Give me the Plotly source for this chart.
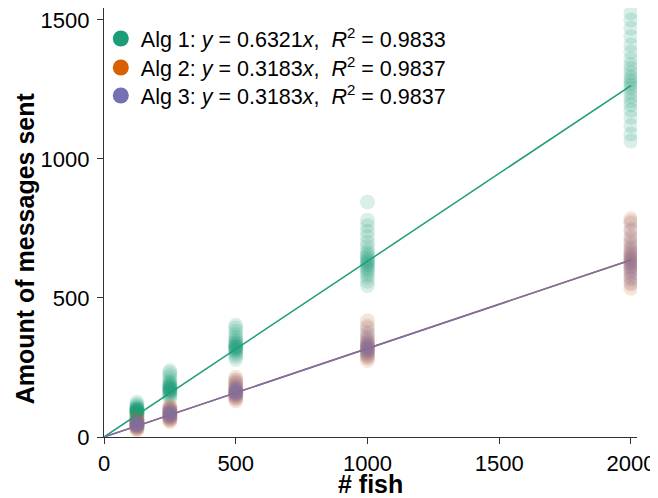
import plotly.graph_objects as go

# ---------------- data ----------------
fish_counts = [125, 250, 500, 1000, 2000]

alg1_values = {
    125: [62, 70, 75, 80, 82, 85, 87, 88, 90, 91, 92, 94, 95, 97, 99, 100, 102, 105, 108, 112, 118, 125],
    250: [140, 148, 152, 158, 162, 165, 168, 170, 172, 175, 177, 180, 183, 186, 190, 195, 200, 210, 220, 230, 238],
    500: [280, 290, 298, 305, 310, 314, 318, 321, 324, 327, 330, 334, 338, 343, 350, 358, 368, 380, 392, 402],
    1000: [545, 560, 575, 585, 595, 603, 610, 617, 622, 628, 633, 638, 645, 652, 660, 670, 685, 700, 720, 740, 760, 780, 845],
    2000: [1065, 1090, 1120, 1150, 1175, 1195, 1210, 1225, 1240, 1255, 1265, 1275, 1285, 1295, 1310, 1325, 1340, 1360, 1385, 1410, 1440, 1470, 1500, 1525],
}
alg2_values = {
    125: [25, 30, 35, 38, 41, 43, 45, 47, 49, 52, 55, 58, 62, 66],
    250: [55, 62, 68, 72, 76, 79, 82, 85, 88, 92, 96, 100, 106, 112],
    500: [130, 140, 148, 153, 157, 160, 163, 167, 171, 176, 183, 192, 202, 215],
    1000: [275, 288, 296, 304, 311, 316, 320, 325, 330, 336, 344, 355, 370, 392, 418],
    2000: [535, 555, 572, 588, 602, 613, 622, 630, 638, 646, 655, 665, 678, 695, 715, 740, 768, 785],
}
alg3_values = {
    125: [30, 34, 38, 41, 43, 45, 47, 49, 51, 54, 57, 61],
    250: [62, 67, 72, 76, 79, 82, 85, 88, 91, 95, 100, 105],
    500: [138, 145, 151, 155, 158, 161, 164, 168, 172, 178, 186, 196, 206],
    1000: [285, 295, 302, 308, 313, 318, 322, 327, 333, 340, 350, 362, 378, 400],
    2000: [550, 568, 582, 595, 606, 615, 623, 631, 639, 648, 658, 670, 685, 702, 722, 748, 775],
}

alg_names = ["Alg 1", "Alg 2", "Alg 3"]
slopes = [0.6321, 0.3183, 0.3183]
r_squared = [0.9833, 0.9837, 0.9837]
colors = ["#1b9e77", "#d95f02", "#7570b3"]
x_ticks = [0, 500, 1000, 1500, 2000]
y_ticks = [0, 500, 1000, 1500]
x_title = "# fish"
y_title = "Amount of messages sent"

all_values = [alg1_values, alg2_values, alg3_values]
FONT = "Liberation Sans, Arial, sans-serif"

fig = go.Figure()

# scatter clouds
for vals, col in zip(all_values, colors):
    xs, ys = [], []
    for fc in fish_counts:
        for v in vals[fc]:
            xs.append(fc)
            ys.append(v)
    fig.add_trace(go.Scatter(
        x=xs, y=ys, mode="markers",
        marker=dict(size=15, color=col, opacity=0.16, line=dict(width=0)),
        showlegend=False, hoverinfo="skip",
    ))

# fit lines
x_line = [0, max(fish_counts)]
for s, col in zip(slopes, colors):
    fig.add_trace(go.Scatter(
        x=x_line, y=[s * xv for xv in x_line], mode="lines",
        line=dict(color=col, width=1.5), showlegend=False, hoverinfo="skip",
    ))

# legend entries (one small legend per row for exact row spacing)
legend_ids = ["legend", "legend2", "legend3"]
legend_tops = [0.9767, 0.909, 0.8438]
for name, s, r2, col, lid in zip(alg_names, slopes, r_squared, colors, legend_ids):
    label = (f"{name}: <i>y</i> = {s:.4f}<i>x</i>,&nbsp; "
             f"<i>R</i><sup>2</sup> = {r2:.4f}")
    fig.add_trace(go.Scatter(
        x=[None], y=[None], mode="markers",
        marker=dict(size=17, color=col, opacity=1),
        name=label, showlegend=True, legend=lid,
    ))

axis_common = dict(
    showline=True, linecolor="#333333", linewidth=1.3,
    ticks="outside", ticklen=6, tickwidth=1.3, tickcolor="#333333",
    showgrid=False, zeroline=False, automargin=False,
    ticklabeloverflow="allow",
    tickfont=dict(family=FONT, size=22, color="black"),
)

legend_style = dict(x=-0.006, xanchor="left", yanchor="top",
                    font=dict(family=FONT, size=21.5), bgcolor="rgba(0,0,0,0)",
                    itemsizing="trace")

# the page body adds an 8px offset, so the figure is 8px smaller than the window
fig.update_layout(
    width=650, height=490,
    margin=dict(l=96, r=21, t=0, b=61),
    paper_bgcolor="white", plot_bgcolor="white",
    font=dict(family=FONT, color="black"),
    xaxis=dict(range=[0, 2023], tickvals=x_ticks, **axis_common),
    yaxis=dict(range=[0, 1543], tickvals=y_ticks, ticklabelstandoff=3, **axis_common),
    legend=dict(y=legend_tops[0], **legend_style),
    legend2=dict(y=legend_tops[1], **legend_style),
    legend3=dict(y=legend_tops[2], **legend_style),
    annotations=[
        dict(text=f"<b>{x_title}</b>", xref="paper", yref="paper",
             x=0.5, y=-0.11, xanchor="center", yanchor="middle",
             showarrow=False, font=dict(family=FONT, size=25, color="black")),
        dict(text=f"<b>{y_title}</b>", xref="paper", yref="paper",
             x=-0.148, y=0.44, xanchor="center", yanchor="middle", textangle=-90,
             showarrow=False, font=dict(family=FONT, size=25, color="black")),
    ],
)

fig.write_html("out.html")
